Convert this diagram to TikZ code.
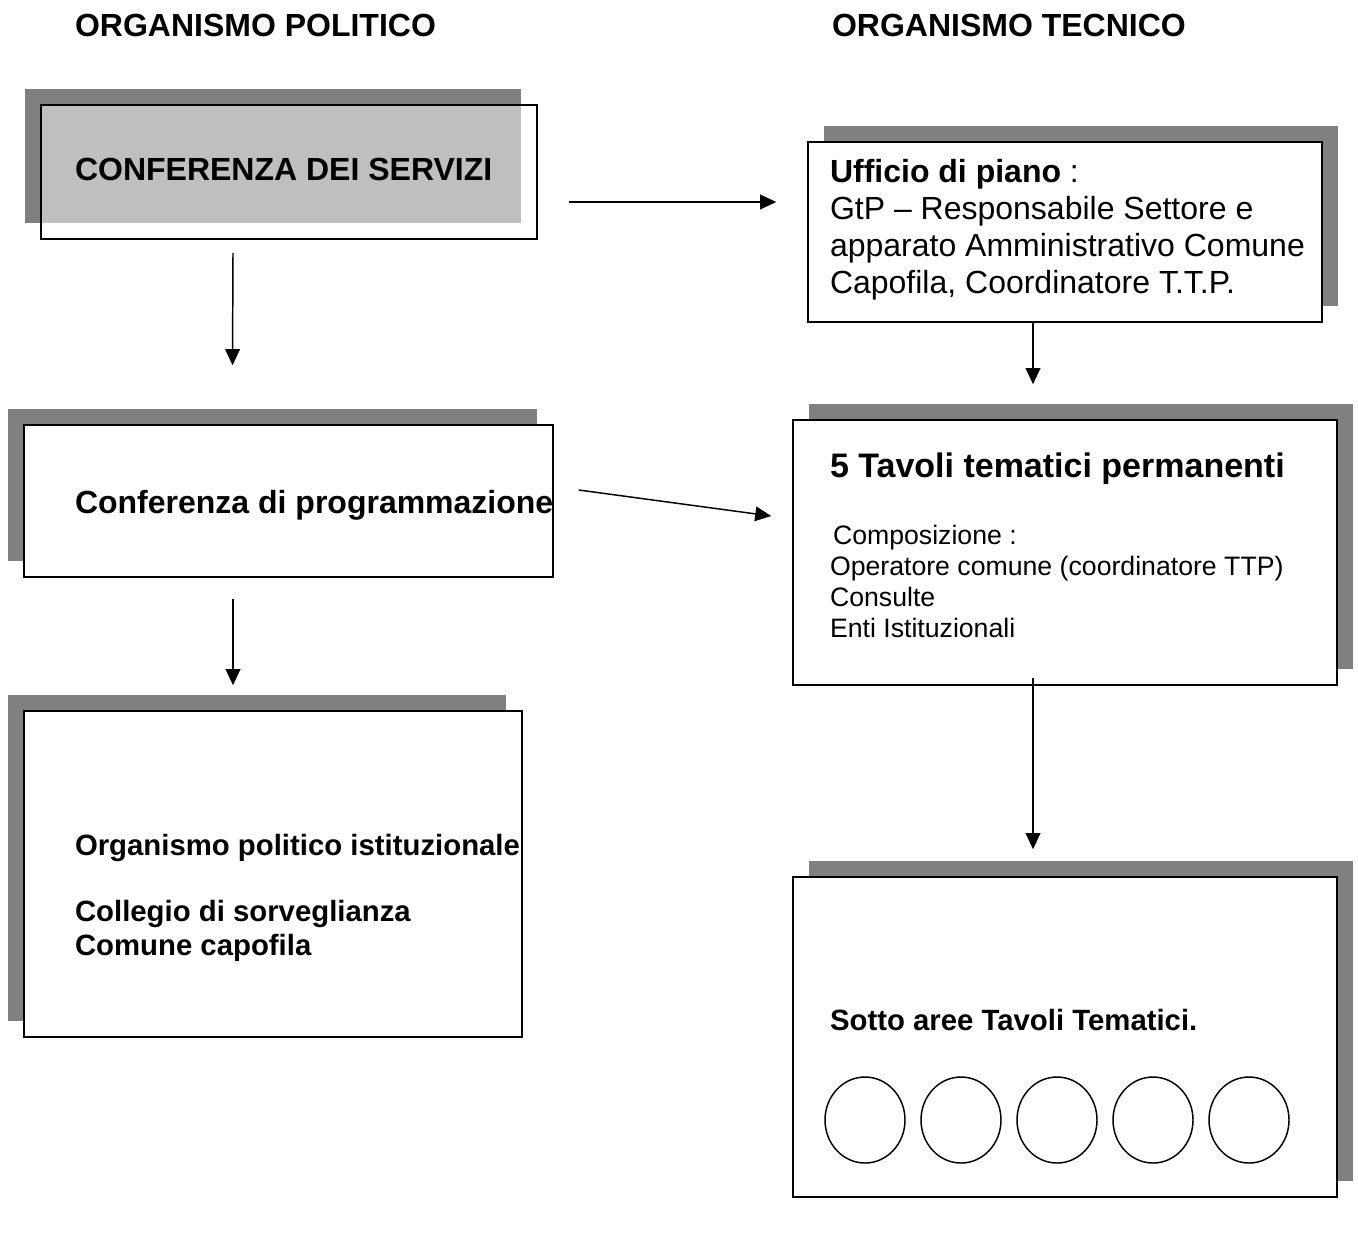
\documentclass[tikz,border=0pt]{standalone}
\usepackage{fontspec}
\setmainfont{Liberation Sans}
\usetikzlibrary{arrows.meta,shadows,shapes.geometric}
\definecolor{shadowgray}{HTML}{808080}
\begin{document}
\begin{tikzpicture}[x=0.75pt,y=-0.75pt,
  box/.style={draw=black, line width=1.2pt, fill=white, rectangle, inner sep=0pt},
  shL/.style={general shadow={fill=shadowgray, draw=none, fill opacity=1, shadow xshift=-12pt, shadow yshift=12pt}},
  shR/.style={general shadow={fill=shadowgray, draw=none, fill opacity=1, shadow xshift=12pt, shadow yshift=12pt}},
  lbl/.style={anchor=base west, inner sep=0pt, outer sep=0pt},
  arr/.style={draw=black, line width=1.1pt, -{Triangle[length=12pt,width=11pt]}},
  sub/.style={draw=black, line width=1.1pt, ellipse, minimum width=60pt, minimum height=64.5pt, inner sep=0pt},
  fA/.style={font=\fontsize{24pt}{28pt}\selectfont},
  fB/.style={font=\fontsize{24pt}{28pt}\selectfont\bfseries},
  fC/.style={font=\fontsize{20pt}{24pt}\selectfont},
  fD/.style={font=\fontsize{22pt}{26pt}\selectfont\bfseries},
  fE/.style={font=\fontsize{25.5pt}{30pt}\selectfont\bfseries}
]
\useasboundingbox (0,0) rectangle (1358,1236);

% titles
\node[lbl,fB] (t1) at (75,36.5) {ORGANISMO POLITICO};
\node[lbl,fB] (t2) at (832,36.5) {ORGANISMO TECNICO};

% boxes
\node[box,shL,fill opacity=0.5,text opacity=1,minimum width=372pt,minimum height=100.5pt] (A) at (289,172) {};
\node[box,shR,minimum width=385.5pt,minimum height=135pt] (B) at (1065,232) {};
\node[box,shL,minimum width=396.75pt,minimum height=114pt] (C) at (288.5,501) {};
\node[box,shR,minimum width=408pt,minimum height=198.75pt] (D) at (1065,552.5) {};
\node[box,shR,minimum width=408pt,minimum height=240pt] (E) at (1065,1037) {};
\node[box,shL,minimum width=373.5pt,minimum height=244.5pt] (F) at (273,874) {};

% texts
\node[lbl,fB] (a1) at (75,180) {CONFERENZA DEI SERVIZI};

\node[lbl,fA] (b1) at (830,182) {\textbf{Ufficio di piano} :};
\node[lbl,fA] (b2) at (830,219) {GtP – Responsabile Settore e};
\node[lbl,fA] (b3) at (830,256) {apparato Amministrativo Comune};
\node[lbl,fA] (b4) at (830,293) {Capofila, Coordinatore T.T.P.};

\node[lbl,fB] (c1) at (75,513) {Conferenza di programmazione};

\node[lbl,fE] (d1) at (830,477) {5 Tavoli tematici permanenti};
\node[lbl,fC] (d2) at (833,544) {Composizione :};
\node[lbl,fC] (d3) at (830,575) {Operatore comune (coordinatore TTP)};
\node[lbl,fC] (d4) at (830,606) {Consulte};
\node[lbl,fC] (d5) at (830,637) {Enti Istituzionali};

\node[lbl,fD] (f1) at (75,855) {Organismo politico istituzionale};
\node[lbl,fD] (f2) at (75,921) {Collegio di sorveglianza};
\node[lbl,fD] (f3) at (75,955) {Comune capofila};

\node[lbl,fD] (e1) at (830,1030) {Sotto aree Tavoli Tematici.};

% circles
\node[sub] (s1) at (865,1120) {};
\node[sub] (s2) at (961,1120) {};
\node[sub] (s3) at (1057,1120) {};
\node[sub] (s4) at (1153,1120) {};
\node[sub] (s5) at (1249,1120) {};

% connectors
\draw[arr] ([shift={(31,30)}]A.east) -- ([shift={(-31,-30)}]B.west);
\draw[arr] ([shift={(-56,13)}]A.south) -- ([shift={(-56,-59)}]C.north);
\draw[arr] ([shift={(-32,0)}]B.south) -- ([shift={(-32,-35)}]D.north);
\draw[arr] ([shift={(25,-11)}]C.east) -- ([shift={(-21,-36.5)}]D.west);
\draw[arr] ([shift={(-55.5,21)}]C.south) -- ([shift={(-40,-25)}]F.north);
\draw[arr] ([shift={(-32,-8)}]D.south) -- ([shift={(-32,-27)}]E.north);
\end{tikzpicture}
\end{document}
